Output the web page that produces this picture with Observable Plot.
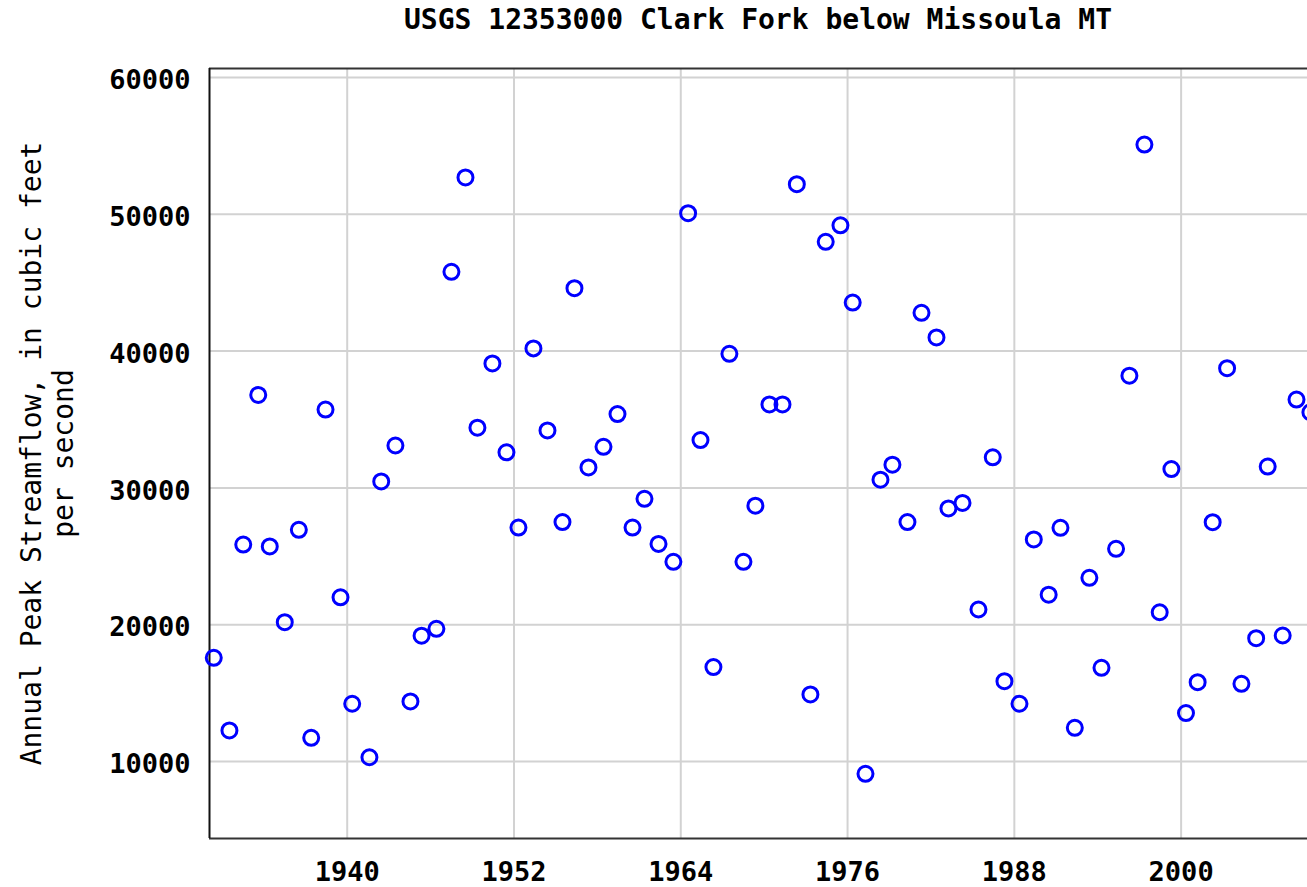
<!DOCTYPE html>
<html>
<head>
<meta charset="utf-8">
<script src="https://cdn.jsdelivr.net/npm/d3@7"></script>
<script src="https://cdn.jsdelivr.net/npm/@observablehq/plot@0.6"></script>
<style>
  html, body { margin: 0; padding: 0; background: #fff; overflow: hidden; }
  #title {
    height: 40px; line-height: 40px; box-sizing: border-box;
    padding-left: 209px; width: 1307px; text-align: center;
    font-family: "DejaVu Sans Mono", monospace; font-weight: bold; font-size: 28px; color: #000;
    white-space: nowrap;
  }
</style>
</head>
<body>
<div id="title">USGS 12353000 Clark Fork below Missoula MT</div>
<div id="chart"></div>
<script>
const peakDates = [
  "1930-05-26","1931-07-12","1932-07-09","1933-08-07","1934-06-06","1935-07-05","1936-07-09","1937-05-30","1938-06-10","1939-07-09",
  "1940-05-11","1941-08-07","1942-06-13","1943-06-21","1944-07-20","1945-05-08","1946-06-02","1947-07-02","1948-07-05","1949-05-15",
  "1950-06-13","1951-06-17","1952-04-27","1953-05-26","1954-05-30","1955-06-28","1956-05-08","1957-05-11","1958-06-10","1959-06-13",
  "1960-07-12","1961-05-22","1962-05-26","1963-06-21","1964-07-12","1965-06-02","1966-05-08","1967-07-02","1968-07-05","1969-05-15",
  "1970-05-19","1971-04-27","1972-05-08","1973-04-30","1974-06-06","1975-06-28","1976-05-15","1977-04-16","1978-05-15","1979-03-25",
  "1980-04-23","1981-04-27","1982-05-26","1983-04-05","1984-04-09","1985-06-02","1986-06-13","1987-04-16","1988-05-15","1989-05-26",
  "1990-06-21","1991-04-27","1992-05-08","1993-05-26","1994-04-09","1995-04-27","1996-04-12","1997-05-11","1998-06-17","1999-04-20",
  "2000-05-08","2001-03-10","2002-04-09","2003-04-23","2004-05-04","2005-05-26","2006-03-25","2007-04-23","2008-04-20","2009-04-20"
];
const peakFlows = [
  17580,12270,25860,36800,25720,20180,26940,11730,35730,22000,
  14220,10310,30470,33100,14390,19200,19700,45800,52700,34400,
  39100,32600,27100,40200,34200,27500,44600,31500,33000,35400,
  27100,29200,25900,24600,50080,33500,16900,39800,24600,28700,
  36100,36100,52200,14900,47990,49200,43550,9100,30600,31700,
  27500,42800,41000,28500,28900,21110,32240,15870,14220,26230,
  22190,27080,12460,23430,16850,25550,38200,55100,20910,31380,
  13540,15800,27490,38750,15680,19010,31560,19210,36460,35530
];
const xTickYears = [1940, 1952, 1964, 1976, 1988, 2000];
const yTicks = [10000, 20000, 30000, 40000, 50000, 60000];
const xDomain = [new Date("1930-02-03"), new Date("2009-02-03")];
const yDomain = [4370, 60660];
const yLabel = "Annual Peak Streamflow, in cubic feet\nper second";

const data = peakDates.map((d, i) => ({date: new Date(d), flow: peakFlows[i]}));
const xTicks = xTickYears.map(y => new Date(Date.UTC(y, 0, 1)));

const chart = Plot.plot({
  width: 1307,
  height: 847,
  marginTop: 28,
  marginBottom: 49,
  marginLeft: 209,
  marginRight: 0,
  style: {fontFamily: "'DejaVu Sans Mono', monospace", fontSize: "27px", fontWeight: "bold", color: "#000", background: "#fff"},
  x: {type: "utc", domain: xDomain},
  y: {domain: yDomain},
  marks: [
    Plot.gridX(xTicks, {stroke: "#d2d2d2", strokeOpacity: 1, strokeWidth: 2}),
    Plot.gridY(yTicks, {stroke: "#d2d2d2", strokeOpacity: 1, strokeWidth: 2}),
    Plot.ruleY([yDomain[1]], {stroke: "#333", strokeWidth: 2}),
    Plot.ruleY([yDomain[0]], {stroke: "#333", strokeWidth: 2}),
    Plot.ruleX([xDomain[0]], {stroke: "#111", strokeWidth: 2}),
    Plot.axisX({ticks: xTicks, tickFormat: d => String(d.getUTCFullYear()), tickSize: 0, tickPadding: 23, label: null, fontWeight: "bold"}),
    Plot.axisY({ticks: yTicks, tickFormat: d => String(d), tickSize: 0, tickPadding: 19, dy: 3, label: null, fontWeight: "bold"}),
    Plot.text([yLabel], {frameAnchor: "left", text: d => d, rotate: -90, dx: -163, fontSize: 28, lineHeight: 1.15, fontWeight: "normal", textAnchor: "middle", fill: "#000"}),
    Plot.dot(data, {x: "date", y: "flow", r: 7.5, stroke: "#0000ff", strokeWidth: 3, fill: "none"})
  ]
});
document.getElementById("chart").appendChild(chart);
</script>
</body>
</html>
